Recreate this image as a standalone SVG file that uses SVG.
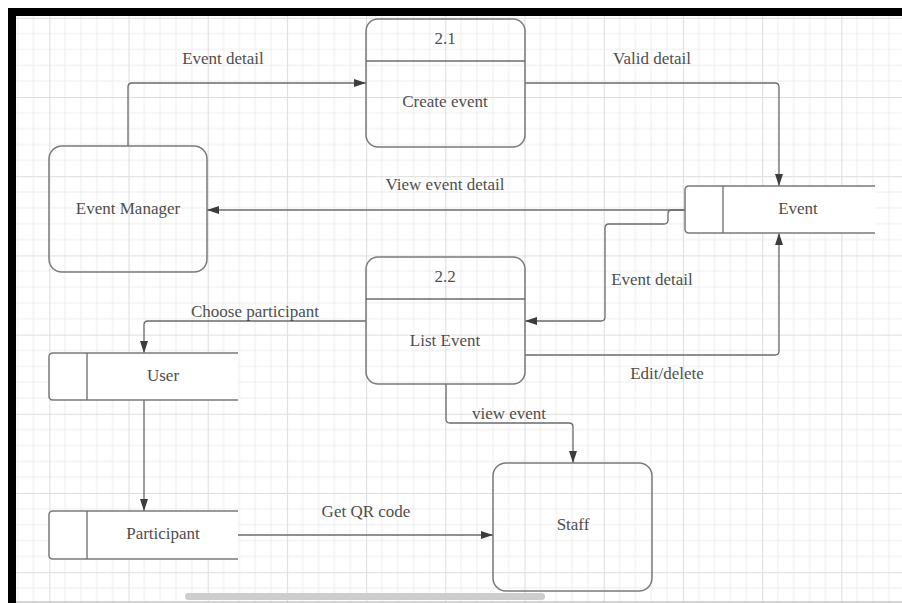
<svg xmlns="http://www.w3.org/2000/svg" width="902" height="603" viewBox="0 0 902 603">
  <defs>
    <!-- squared paper: light minor lines, slightly darker every fifth -->
    <pattern id="grid" patternUnits="userSpaceOnUse" x="49.3" y="17.8" width="79.2" height="79.2">
      <path d="M15.84 0V79.2M31.68 0V79.2M47.52 0V79.2M63.36 0V79.2M0 15.84H79.2M0 31.68H79.2M0 47.52H79.2M0 63.36H79.2" stroke="#ededed" stroke-width="1" fill="none"/>
      <path d="M0.5 0V79.2M0 0.5H79.2" stroke="#dedede" stroke-width="1.2" fill="none"/>
    </pattern>
    <marker id="arrow" viewBox="0 0 12 8" refX="12" refY="4" markerWidth="12" markerHeight="8" markerUnits="userSpaceOnUse" orient="auto">
      <path d="M0,0 L12,4 L0,8 Z" fill="#3c3c3c"/>
    </marker>
    <style>
      .shape { fill: none; stroke: #7a7a7a; stroke-width: 1.5; }
      .store-bg { fill: #ffffff; stroke: none; }
      .flow { fill: none; stroke: #6b6b6b; stroke-width: 1.3; marker-end: url(#arrow); }
      .plain { fill: none; stroke: #6b6b6b; stroke-width: 1.3; }
      text { font-family: "Liberation Serif", "DejaVu Serif", serif; font-size: 17px; fill: #4e4e4e; text-anchor: middle; }
    </style>
  </defs>

  <!-- page background and frame -->
  <rect x="0" y="0" width="902" height="603" fill="#ffffff"/>
  <rect x="16" y="16" width="886" height="586" fill="url(#grid)"/>
  <rect x="8" y="8" width="894" height="8" fill="#000000"/>
  <rect x="8" y="8" width="8" height="595" fill="#000000"/>
  <line x1="16" y1="602" x2="902" y2="602" stroke="#a8a8a8" stroke-width="1.2"/>
  <rect x="185" y="593" width="360" height="7" rx="3.5" fill="#cdcdcd"/>

  <!-- connectors -->
  <g id="connectors">
    <path class="flow" d="M128,146 V87 Q128,83 132,83 H366"/>
    <path class="flow" d="M525,83 H775 Q779,83 779,87 V186"/>
    <path class="flow" d="M685,210 H207"/>
    <path class="flow" d="M685,210 H672 Q668,210 668,214 V220 Q668,224 664,224 H609 Q605,224 605,228 V317 Q605,321 601,321 H525"/>
    <path class="flow" d="M525,355 H775 Q779,355 779,351 V233"/>
    <path class="flow" d="M366,321 H148 Q144,321 144,325 V353"/>
    <path class="flow" d="M144,400 V511"/>
    <path class="flow" d="M446,384 V419 Q446,423 450,423 H569 Q573,423 573,427 V463"/>
    <path class="flow" d="M238,535 H493"/>
    <text x="223" y="64">Event detail</text>
    <text x="652" y="64">Valid detail</text>
    <text x="445" y="190">View event detail</text>
    <text x="652" y="285">Event detail</text>
    <text x="255" y="317">Choose participant</text>
    <text x="667" y="379">Edit/delete</text>
    <text x="509" y="419">view event</text>
    <text x="366" y="517">Get QR code</text>
  </g>

  <!-- external entity -->
  <g id="event-manager">
    <rect class="shape" x="49" y="146" width="158" height="126" rx="13"/>
    <text x="128" y="214">Event Manager</text>
  </g>

  <!-- process 2.1 -->
  <g id="create-event">
    <rect class="shape" x="366" y="19" width="159" height="128" rx="12"/>
    <line class="plain" x1="366" y1="61" x2="525" y2="61" stroke-width="1.5"/>
    <text x="445" y="44">2.1</text>
    <text x="445" y="107">Create event</text>
  </g>

  <!-- process 2.2 -->
  <g id="list-event">
    <rect class="shape" x="366" y="257" width="159" height="127" rx="12"/>
    <line class="plain" x1="366" y1="299" x2="525" y2="299" stroke-width="1.5"/>
    <text x="445" y="282">2.2</text>
    <text x="445" y="346">List Event</text>
  </g>

  <!-- data store: Event -->
  <g id="event-store">
    <rect class="store-bg" x="685" y="186" width="190" height="47"/>
    <path class="shape" d="M875,186 H689 Q685,186 685,190 V229 Q685,233 689,233 H875"/>
    <line class="plain" x1="723" y1="186" x2="723" y2="233" stroke-width="1.5"/>
    <text x="798" y="214">Event</text>
  </g>

  <!-- data store: User -->
  <g id="user-store">
    <rect class="store-bg" x="49" y="353" width="189" height="47"/>
    <path class="shape" d="M238,353 H53 Q49,353 49,357 V396 Q49,400 53,400 H238"/>
    <line class="plain" x1="87" y1="353" x2="87" y2="400" stroke-width="1.5"/>
    <text x="163" y="381">User</text>
  </g>

  <!-- data store: Participant -->
  <g id="participant-store">
    <rect class="store-bg" x="49" y="511" width="189" height="48"/>
    <path class="shape" d="M238,511 H53 Q49,511 49,515 V555 Q49,559 53,559 H238"/>
    <line class="plain" x1="87" y1="511" x2="87" y2="559" stroke-width="1.5"/>
    <text x="163" y="539">Participant</text>
  </g>

  <!-- external entity: Staff -->
  <g id="staff">
    <rect class="shape" x="493" y="463" width="159" height="128" rx="13"/>
    <text x="573" y="530">Staff</text>
  </g>
</svg>
